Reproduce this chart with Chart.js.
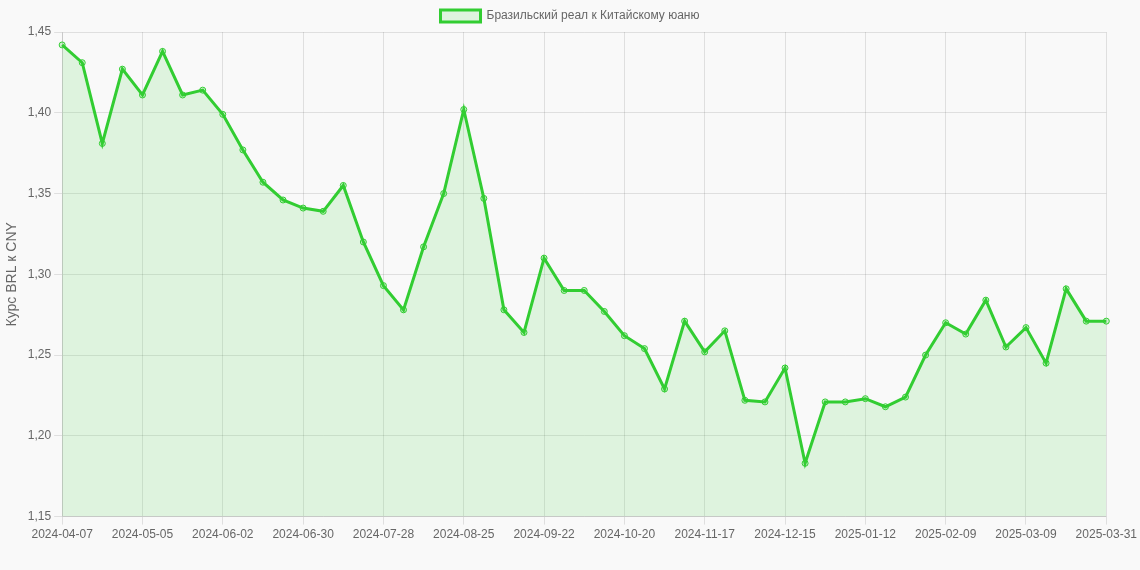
<!DOCTYPE html>
<html>
<head>
<meta charset="utf-8">
<script src="https://cdn.jsdelivr.net/npm/chart.js@4.4.1/dist/chart.umd.min.js"></script>
<style>
    html, body { margin: 0; padding: 0; background: #f9f9f9; }
    #wrap { width: 1140px; height: 570px; }
</style>
</head>
<body>
<div id="wrap"><canvas id="rateChart" width="1140" height="570"></canvas></div>
<script>
// недельные даты
const labels = [
    '2024-04-07', '2024-04-14', '2024-04-21', '2024-04-28', '2024-05-05', '2024-05-12', '2024-05-19', '2024-05-26',
    '2024-06-02', '2024-06-09', '2024-06-16', '2024-06-23', '2024-06-30', '2024-07-07', '2024-07-14', '2024-07-21',
    '2024-07-28', '2024-08-04', '2024-08-11', '2024-08-18', '2024-08-25', '2024-09-01', '2024-09-08', '2024-09-15',
    '2024-09-22', '2024-09-29', '2024-10-06', '2024-10-13', '2024-10-20', '2024-10-27', '2024-11-03', '2024-11-10',
    '2024-11-17', '2024-11-24', '2024-12-01', '2024-12-08', '2024-12-15', '2024-12-22', '2024-12-29', '2025-01-05',
    '2025-01-12', '2025-01-19', '2025-01-26', '2025-02-02', '2025-02-09', '2025-02-16', '2025-02-23', '2025-03-02',
    '2025-03-09', '2025-03-16', '2025-03-23', '2025-03-30', '2025-03-31'
];

const brlCny = [
    1.442, 1.431, 1.381, 1.427, 1.411, 1.438, 1.411, 1.414,
    1.399, 1.377, 1.357, 1.346, 1.341, 1.339, 1.355, 1.320,
    1.293, 1.278, 1.317, 1.350, 1.402, 1.347, 1.278, 1.264,
    1.310, 1.290, 1.290, 1.277, 1.262, 1.254, 1.229, 1.271,
    1.252, 1.265, 1.222, 1.221, 1.242, 1.183, 1.221, 1.221,
    1.223, 1.218, 1.224, 1.250, 1.270, 1.263, 1.284, 1.255,
    1.267, 1.245, 1.291, 1.271, 1.271
];

const seriesLabel = 'Бразильский реал к Китайскому юаню';
const axisTitle = 'Курс BRL к CNY';

Chart.defaults.font.family = '"Liberation Sans", Arial, sans-serif';
Chart.defaults.color = '#666';

const ctx = document.getElementById('rateChart').getContext('2d');
new Chart(ctx, {
    type: 'line',
    data: {
        labels: labels,
        datasets: [{
            label: seriesLabel,
            data: brlCny,
            borderColor: 'rgb(50, 205, 50)',
            backgroundColor: 'rgba(50, 205, 50, 0.13)',
            borderWidth: 3,
            fill: true,
            tension: 0,
            pointRadius: 3,
            pointBorderWidth: 1,
            pointBackgroundColor: 'rgba(50, 205, 50, 0.2)',
            pointBorderColor: 'rgb(50, 205, 50)'
        }]
    },
    options: {
        responsive: false,
        animation: false,
        layout: { padding: { bottom: 25 } },
        plugins: {
            legend: {
                labels: { font: { size: 12 }, boxWidth: 40 }
            },
            tooltip: { enabled: false }
        },
        scales: {
            x: {
                grid: { color: 'rgba(0,0,0,0.1)' },
                ticks: {
                    autoSkip: false,
                    maxRotation: 0,
                    font: { size: 12 },
                    callback: function (value, index) {
                        if (index % 4 === 0 || index === labels.length - 1) {
                            return labels[index];
                        }
                        return null;
                    }
                }
            },
            y: {
                min: 1.15,
                max: 1.45,
                grid: { color: 'rgba(0,0,0,0.1)' },
                ticks: {
                    stepSize: 0.05,
                    font: { size: 12 },
                    callback: v => v.toFixed(2).replace('.', ',')
                },
                title: {
                    display: true,
                    text: axisTitle,
                    font: { size: 14 }
                }
            }
        }
    }
});
</script>
</body>
</html>
